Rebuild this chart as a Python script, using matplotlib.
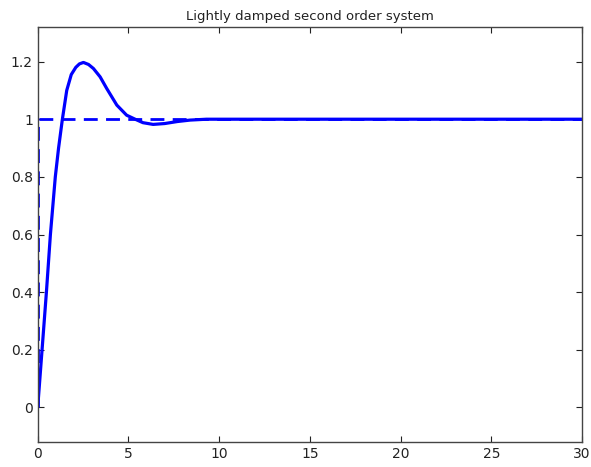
import numpy as np
import matplotlib.pyplot as plt

# step response
t_resp = [0, 0.24, 0.48, 0.70, 0.97, 1.15, 1.36, 1.6, 1.85, 2.1, 2.3, 2.52, 2.8, 3.07, 3.44,
          3.8, 4.36, 4.9, 5.37, 5.8, 6.36, 7.0, 7.7, 8.4, 9.3, 10, 15, 20, 25, 30]
y_resp = [0, 0.2, 0.4, 0.6, 0.8, 0.9, 1.0, 1.10, 1.155, 1.18, 1.192, 1.197, 1.19, 1.176, 1.147,
          1.107, 1.049, 1.014, 1.0, 0.988, 0.982, 0.985, 0.992, 0.997, 1.0, 1.0, 1.0, 1.0, 1.0, 1.0]

# unit step input
t_step = [0, 0, 30]
y_step = [0, 1, 1]

xticks = [0, 5, 10, 15, 20, 25, 30]
yticks = [0, 0.2, 0.4, 0.6, 0.8, 1, 1.2]
ytick_labels = ["0", "0.2", "0.4", "0.6", "0.8", "1", "1.2"]

fig = plt.figure(figsize=(5.91, 4.67), dpi=100)
ax = fig.add_axes([0.0638, 0.0535, 0.9210, 0.8887])

ax.plot(t_step, y_step, color="#0000ff", lw=2.0, dashes=(5, 3))
ax.plot(t_resp, y_resp, color="#0000ff", lw=2.3, solid_joinstyle="round", solid_capstyle="round")

ax.set_xlim(0, 30)
ax.set_ylim(-0.12, 1.32)
ax.set_xticks(xticks)
ax.set_yticks(yticks)
ax.set_yticklabels(ytick_labels)
ax.tick_params(direction="in", length=4, top=True, right=True, labelsize=10, colors="#222222")
for s in ax.spines.values():
    s.set_color("#444444")
    s.set_linewidth(1.0)

ax.set_title("Lightly damped second order system", fontsize=9.5, color="#222222", pad=5)

fig.savefig("out.png", dpi=100)
